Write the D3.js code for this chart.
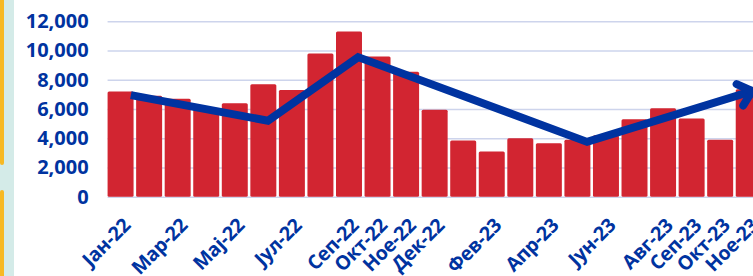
<!DOCTYPE html>
<html>
<head>
<meta charset="utf-8">
<script src="https://cdn.jsdelivr.net/npm/d3@7"></script>
<style>
  html, body { margin: 0; padding: 0; background: #fff; }
  svg { display: block; }
</style>
</head>
<body>
<svg id="chart" width="753" height="276"></svg>
<script>
// monthly values, Jan-22 .. Nov-23
const categories = [
  'Јан-22', 'Фев-22', 'Мар-22', 'Апр-22', 'Мај-22', 'Јун-22', 'Јул-22', 'Авг-22',
  'Сеп-22', 'Окт-22', 'Ное-22', 'Дек-22', 'Јан-23', 'Фев-23', 'Мар-23', 'Апр-23',
  'Мај-23', 'Јун-23', 'Јул-23', 'Авг-23', 'Сеп-23', 'Окт-23', 'Ное-23'
];
const values = [
  7200, 6900, 6700, 6000, 6400, 7700, 7300, 9800,
  11300, 9600, 8550, 5950, 3850, 3100, 4000, 3650,
  3900, 4200, 5300, 6050, 5350, 3900, 7350
];
// labels the axis actually shows
const shownLabels = [
  'Јан-22', 'Мар-22', 'Мај-22', 'Јул-22', 'Сеп-22', 'Окт-22', 'Ное-22', 'Дек-22',
  'Фев-23', 'Апр-23', 'Јун-23', 'Авг-23', 'Сеп-23', 'Окт-23', 'Ное-23'
];
const yTicks = [0, 2000, 4000, 6000, 8000, 10000, 12000];

// hand drawn trend arrow: position in bar units, value
const trendPos = [0.36, 5.16, 8.32, 16.34, 22.12];
const trendValues = [6950, 5200, 9550, 3750, 7230];

const blue = '#0033a0';
const red = '#d22531';

const svg = d3.select('#chart');
const width = 753, height = 276;
const margin = { top: 21.3, bottom: 79.3, left: 106.3, right: -10 };

// left decoration strip
svg.append('rect').attr('x', 0).attr('y', 0).attr('width', 14).attr('height', height).attr('fill', '#d4ebe8');
svg.append('rect').attr('x', 0).attr('y', -5).attr('width', 4).attr('height', 170).attr('rx', 2).attr('fill', '#f7b923');
svg.append('rect').attr('x', 0).attr('y', 190).attr('width', 4).attr('height', 100).attr('rx', 2).attr('fill', '#f7b923');

const x = d3.scaleBand()
  .domain(categories)
  .range([margin.left, width - margin.right])
  .paddingInner(0.09)
  .paddingOuter(0.045);

const y = d3.scaleLinear()
  .domain([0, 12000])
  .range([height - margin.bottom, margin.top]);

const step = x.step();
const x0 = x(categories[0]) + x.bandwidth() / 2;
const posX = p => x0 + p * step;

// gridlines + y labels
const yAxis = g => g
  .attr('transform', `translate(${x(categories[0])},0)`)
  .call(d3.axisLeft(y).tickValues(yTicks).tickSize(-(width - x(categories[0]))).tickPadding(19).tickFormat(d3.format(',')))
  .call(g => g.select('.domain').remove())
  .call(g => g.selectAll('.tick line').attr('stroke', '#cdd4ec').attr('stroke-width', 1.5))
  .call(g => g.selectAll('.tick text')
    .attr('fill', blue)
    .attr('font-family', '"Open Sans", sans-serif')
    .attr('font-weight', 700)
    .attr('font-size', 20));

svg.append('g').call(yAxis);

// bars
svg.append('g')
  .selectAll('rect')
  .data(values)
  .enter()
  .append('rect')
  .attr('x', (d, i) => x(categories[i]))
  .attr('y', d => y(d))
  .attr('width', x.bandwidth())
  .attr('height', d => y(0) - y(d))
  .attr('rx', 1.5)
  .attr('fill', red);

// x labels
svg.append('g')
  .selectAll('text')
  .data(shownLabels)
  .enter()
  .append('text')
  .attr('transform', d => `translate(${x(d) + x.bandwidth() / 2 + 11},${y(0) + 30}) rotate(-45)`)
  .attr('text-anchor', 'end')
  .attr('fill', blue)
  .attr('font-family', '"Open Sans", sans-serif')
  .attr('font-weight', 700)
  .attr('font-size', 19.5)
  .attr('letter-spacing', -0.3)
  .text(d => d);

// trend line
const pts = trendPos.map((p, i) => [posX(p), y(trendValues[i])]);
svg.append('path')
  .attr('d', d3.line()(pts))
  .attr('fill', 'none')
  .attr('stroke', blue)
  .attr('stroke-width', 8)
  .attr('stroke-linejoin', 'miter');

// arrow head
const [tx, ty] = pts[pts.length - 1];
const [px, py] = pts[pts.length - 2];
const back = Math.atan2(py - ty, px - tx);
const armLen = 17;
[-0.72, 0.72].forEach(a => {
  svg.append('line')
    .attr('x1', tx).attr('y1', ty)
    .attr('x2', tx + armLen * Math.cos(back + a))
    .attr('y2', ty + armLen * Math.sin(back + a))
    .attr('stroke', blue)
    .attr('stroke-width', 8)
    .attr('stroke-linecap', 'round');
});
</script>
</body>
</html>
